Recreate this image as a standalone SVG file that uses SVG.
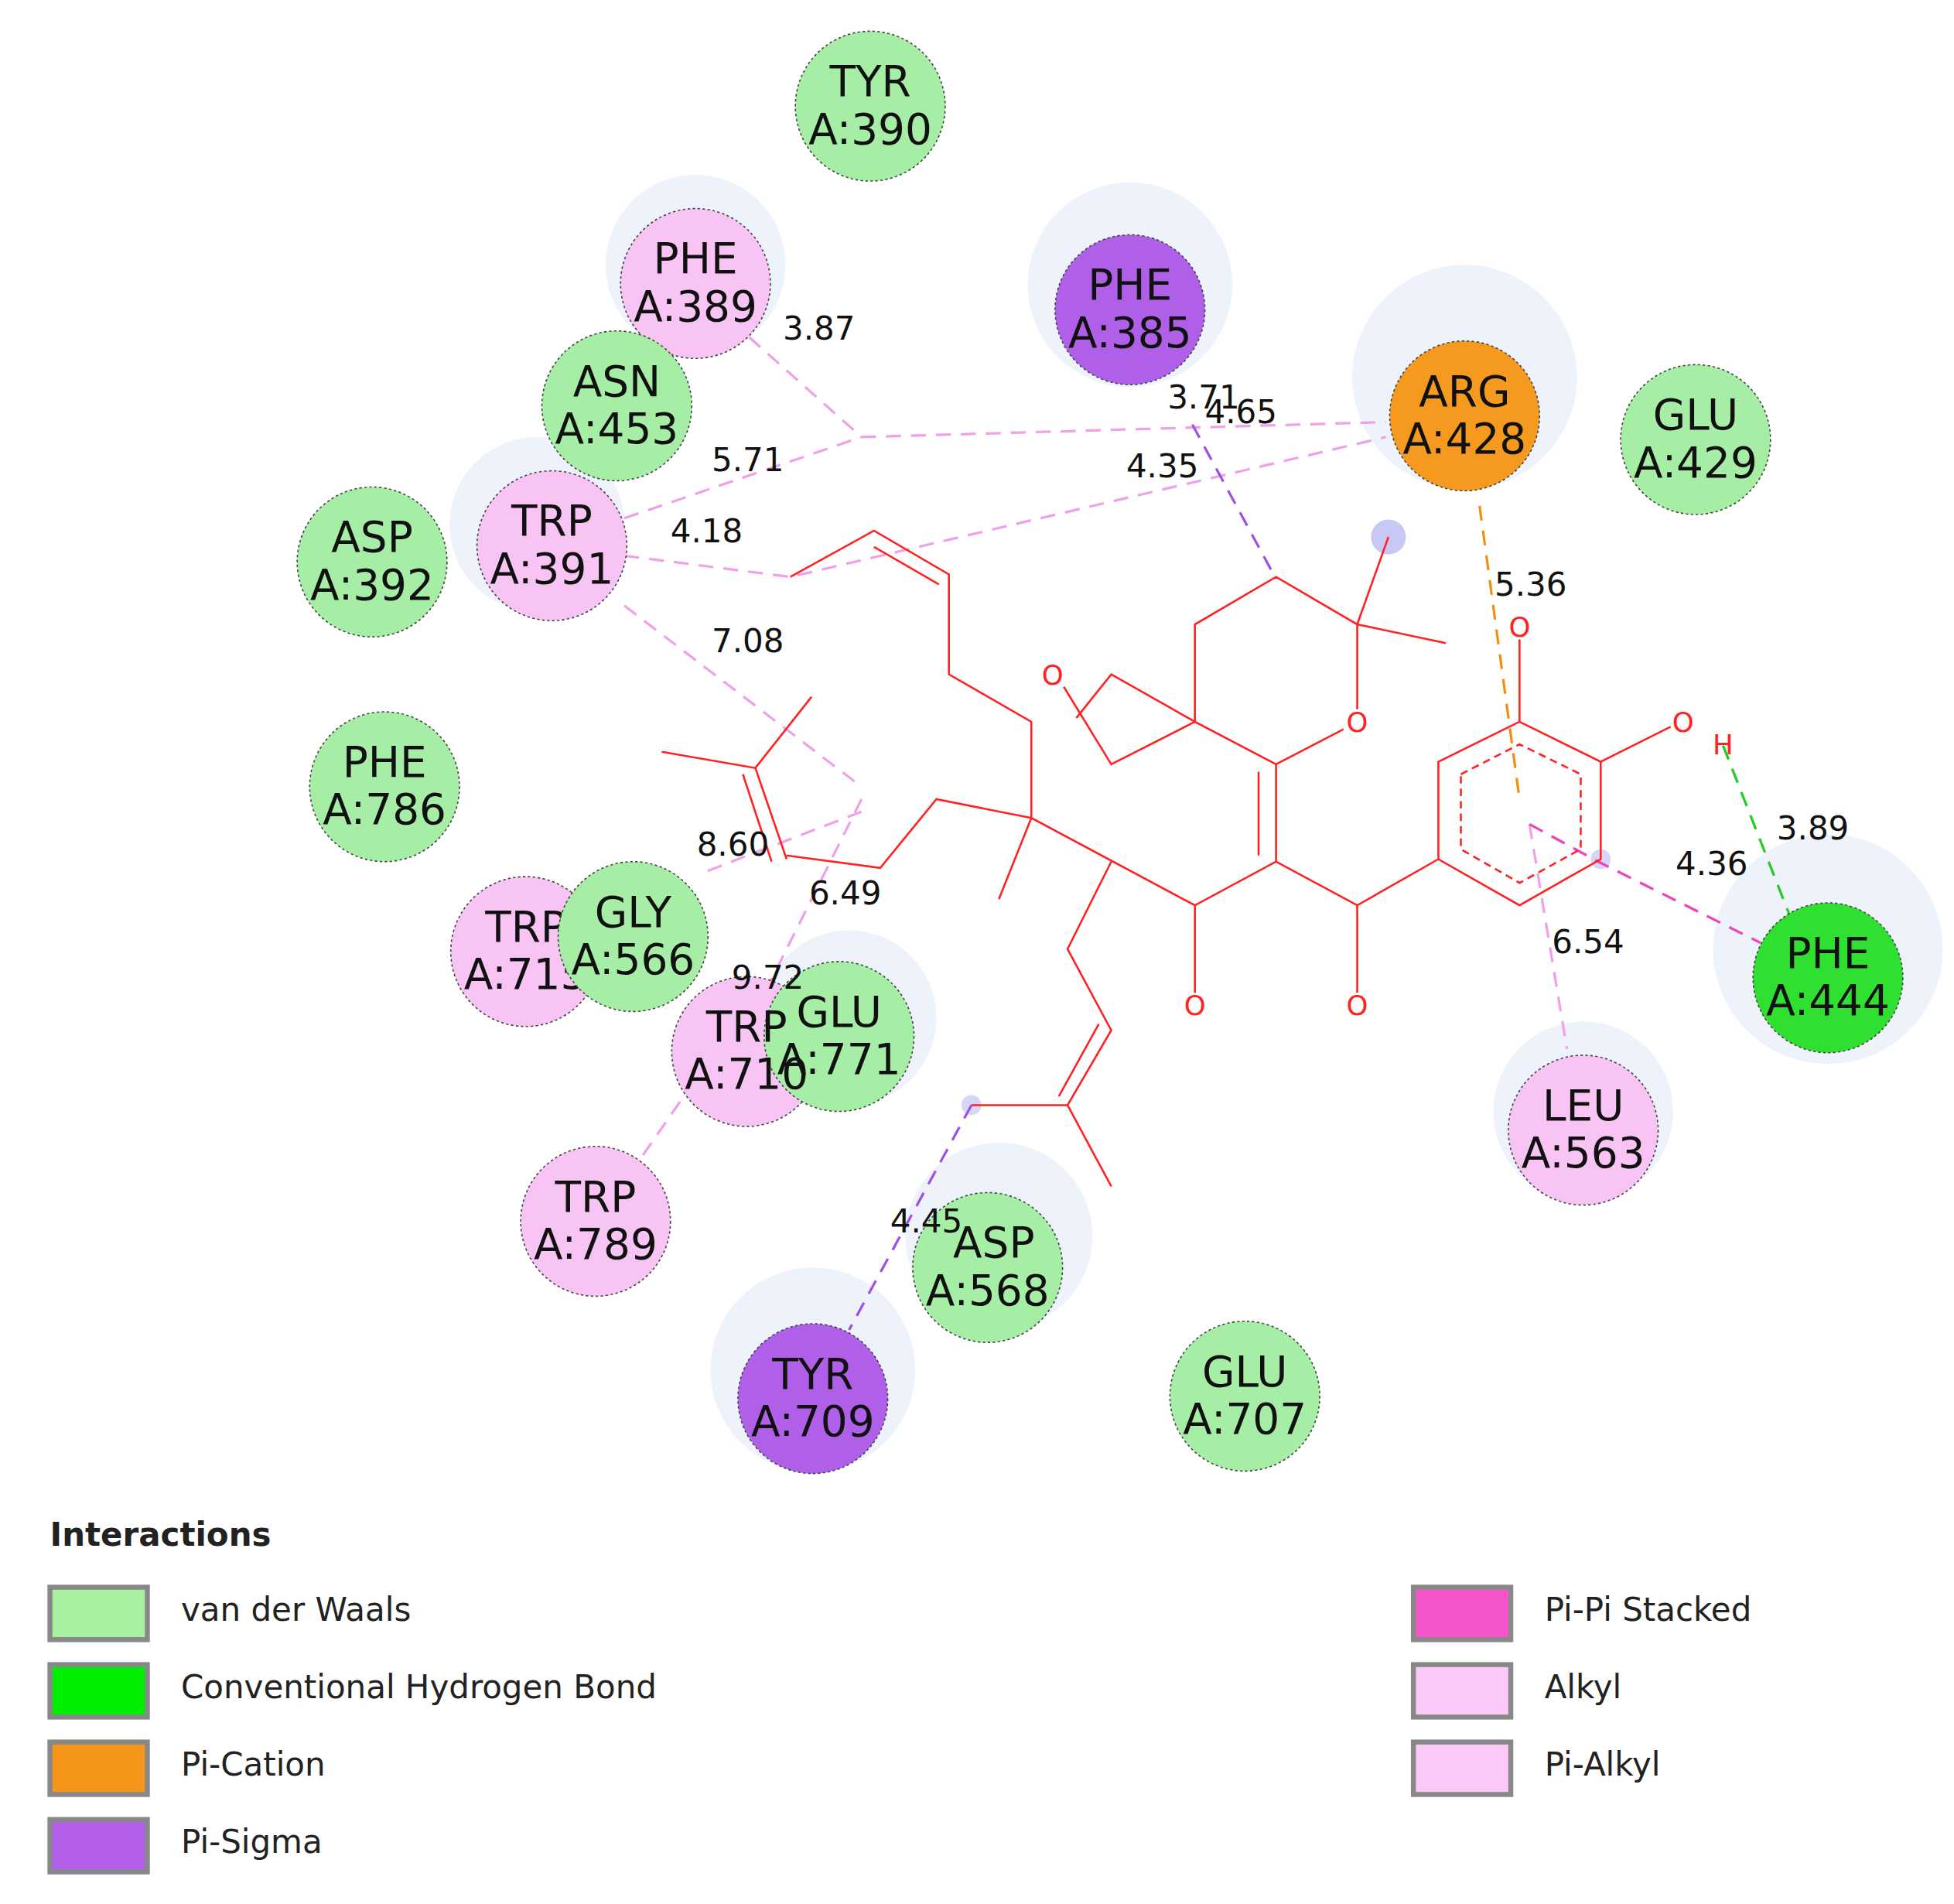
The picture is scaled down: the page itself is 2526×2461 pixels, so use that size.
<svg xmlns="http://www.w3.org/2000/svg" width="2526" height="2461" viewBox="0 0 2526 2461">
<style>
.r text{font-family:"DejaVu Sans",sans-serif;font-size:34px;text-anchor:middle;fill:#111}
.c{stroke:#444;stroke-width:1;stroke-dasharray:2 2}
.vdw{fill:#a6eea6}.pk{fill:#f7c4f4}.pu{fill:#b060e8}.or{fill:#f59a1e}.hb{fill:#30e030}
.halo{fill:#eef2fb}
.m{stroke:#f22;stroke-width:1.6;fill:none}
.d{fill:none;stroke-width:2;stroke-dasharray:12 8}
.lbl{font-family:"DejaVu Sans",sans-serif;font-size:26px;fill:#111}
.ot{font-family:"DejaVu Sans",sans-serif;font-size:22px;fill:#f22;text-anchor:middle}
.lg{font-family:"DejaVu Sans",sans-serif;font-size:26px;fill:#222}
.box{stroke:#888;stroke-width:4}
</style>
<rect width="2526" height="2461" fill="#fff"/>
<g transform="scale(1.6141)">
<g id="halos">
<circle class="halo" cx="905" cy="228" r="82"/><circle class="halo" cx="1173" cy="302" r="90"/>
<circle class="halo" cx="1464" cy="760" r="92"/><circle class="halo" cx="651" cy="1097" r="82"/>
<circle class="halo" cx="800" cy="990" r="75"/><circle class="halo" cx="557" cy="212" r="72"/>
<circle class="halo" cx="430" cy="420" r="70"/><circle class="halo" cx="1268" cy="890" r="72"/>
<circle class="halo" cx="680" cy="815" r="70"/>
<circle cx="1112" cy="430" r="14" fill="#c8c8f4"/><circle cx="1282" cy="688" r="8" fill="#d6d6f6"/><circle cx="778" cy="885" r="8" fill="#d6d6f6"/>
</g>
<g id="connectors">
<g stroke="#f0a0ea" class="d">
<path d="M600 270L690 350L1110 338"/><path d="M500 415L690 350"/><path d="M500 445L633 462L1110 350"/>
<path d="M500 485L690 630"/><path d="M690 650L560 700"/><path d="M690 640L610 800"/><path d="M515 925L560 860"/>
<path d="M1225 660L1255 840"/></g>
<path class="d" stroke="#ee44bb" d="M1225 660L1280 690L1410 755"/>
<path class="d" stroke="#a050e0" d="M955 340L1020 460M778 885L680 1065"/>
<path class="d" stroke="#f09010" d="M1185 405L1217 640"/>
<path class="d" stroke="#22cc22" d="M1380 597L1440 750"/>
</g>
<g id="ligand">
<path class="m" d="M1152 610L1217 578L1282 610L1282 688L1217 725L1152 688Z"/>
<path class="m" stroke-dasharray="6 4" d="M1170 620L1217 596L1266 620L1266 680L1217 707L1170 680Z"/>
<path class="m" d="M1217 578L1217 512M1282 610L1338 582M1152 688L1087 725L1087 795M1087 725L1022 690L957 725L957 795M1022 690L1022 612M1008 685L1008 618M1022 612L1076 584M1087 568L1087 500L1022 462L957 500L957 578L1022 612M1087 500L1112 430M1087 500L1158 515M957 578L890 612L852 550M957 578L890 540L862 575M957 725L826 655L826 578L760 540L760 460L700 425L633 462M700 438L752 468M826 655L800 720M826 655L750 640L705 695L630 685M890 690L855 760L890 825L855 885L778 885M880 820L848 878M855 885L890 950M530 602L605 615L650 558M605 615L630 688M595 620L618 690"/>
<text class="ot" x="1217" y="510">O</text><text class="ot" x="1348" y="586">O</text><text class="ot" x="1380" y="604" font-size="18" fill="#111">H</text>
<text class="ot" x="1087" y="813">O</text><text class="ot" x="957" y="813">O</text><text class="ot" x="1087" y="586">O</text><text class="ot" x="843" y="548">O</text>
</g>
<g class="r">
<g id="TYR390"><circle class="vdw c" cx="697" cy="85" r="60"/><text x="697" y="77">TYR</text><text x="697" y="115">A:390</text></g>
<g id="PHE389"><circle class="pk c" cx="557" cy="227" r="60"/><text x="557" y="219">PHE</text><text x="557" y="257">A:389</text></g>
<g id="PHE385"><circle class="pu c" cx="905" cy="248" r="60"/><text x="905" y="240">PHE</text><text x="905" y="278">A:385</text></g>
<g id="ASN453"><circle class="vdw c" cx="494" cy="325" r="60"/><text x="494" y="317">ASN</text><text x="494" y="355">A:453</text></g>
<g id="ARG428"><circle class="or c" cx="1173" cy="333" r="60"/><text x="1173" y="325">ARG</text><text x="1173" y="363">A:428</text></g>
<g id="GLU429"><circle class="vdw c" cx="1358" cy="352" r="60"/><text x="1358" y="344">GLU</text><text x="1358" y="382">A:429</text></g>
<g id="ASP392"><circle class="vdw c" cx="298" cy="450" r="60"/><text x="298" y="442">ASP</text><text x="298" y="480">A:392</text></g>
<g id="TRP391"><circle class="pk c" cx="442" cy="437" r="60"/><text x="442" y="429">TRP</text><text x="442" y="467">A:391</text></g>
<g id="PHE786"><circle class="vdw c" cx="308" cy="630" r="60"/><text x="308" y="622">PHE</text><text x="308" y="660">A:786</text></g>
<g id="TRP715"><circle class="pk c" cx="421" cy="762" r="60"/><text x="421" y="754">TRP</text><text x="421" y="792">A:715</text></g>
<g id="GLY566"><circle class="vdw c" cx="507" cy="750" r="60"/><text x="507" y="742">GLY</text><text x="507" y="780">A:566</text></g>
<g id="TRP710"><circle class="pk c" cx="598" cy="842" r="60"/></g>
<g id="GLU771"><circle class="vdw c" cx="672" cy="830" r="60"/><text x="672" y="822">GLU</text><text x="672" y="860">A:771</text></g>
<g id="TRP710t"><text x="598" y="834">TRP</text><text x="598" y="872">A:710</text></g>
<g id="TRP789"><circle class="pk c" cx="477" cy="978" r="60"/><text x="477" y="970">TRP</text><text x="477" y="1008">A:789</text></g>
<g id="ASP568"><circle class="vdw c" cx="791" cy="1015" r="60"/><text x="796" y="1007">ASP</text><text x="791" y="1045">A:568</text></g>
<g id="TYR709"><circle class="pu c" cx="651" cy="1120" r="60"/><text x="651" y="1112">TYR</text><text x="651" y="1150">A:709</text></g>
<g id="GLU707"><circle class="vdw c" cx="997" cy="1118" r="60"/><text x="997" y="1110">GLU</text><text x="997" y="1148">A:707</text></g>
<g id="LEU563"><circle class="pk c" cx="1268" cy="905" r="60"/><text x="1268" y="897">LEU</text><text x="1268" y="935">A:563</text></g>
<g id="PHE444"><circle class="hb c" cx="1464" cy="783" r="60"/><text x="1464" y="775">PHE</text><text x="1464" y="813">A:444</text></g>
</g>
<g class="lbl">
<text x="627" y="272">3.87</text><text x="570" y="377">5.71</text><text x="537" y="434">4.18</text><text x="570" y="522">7.08</text>
<text x="558" y="685">8.60</text><text x="648" y="724">6.49</text><text x="586" y="792">9.72</text><text x="935" y="327">3.71</text>
<text x="965" y="339">4.65</text><text x="902" y="382">4.35</text><text x="1197" y="477">5.36</text><text x="1423" y="672">3.89</text>
<text x="1342" y="701">4.36</text><text x="1243" y="763">6.54</text><text x="713" y="987">4.45</text>
</g>
<g id="legend">
<text class="lg" x="40" y="1238" font-weight="bold">Interactions</text>
<rect class="box" x="40" y="1271" width="78" height="42" fill="#a6f0a0"/><text class="lg" x="145" y="1298">van der Waals</text>
<rect class="box" x="40" y="1333" width="78" height="42" fill="#00ee00"/><text class="lg" x="145" y="1360">Conventional Hydrogen Bond</text>
<rect class="box" x="40" y="1395" width="78" height="42" fill="#f5951a"/><text class="lg" x="145" y="1422">Pi-Cation</text>
<rect class="box" x="40" y="1457" width="78" height="42" fill="#b35ee8"/><text class="lg" x="145" y="1484">Pi-Sigma</text>
<rect class="box" x="1132" y="1271" width="78" height="42" fill="#f555c8"/><text class="lg" x="1237" y="1298">Pi-Pi Stacked</text>
<rect class="box" x="1132" y="1333" width="78" height="42" fill="#fcc8f8"/><text class="lg" x="1237" y="1360">Alkyl</text>
<rect class="box" x="1132" y="1395" width="78" height="42" fill="#fcc8f8"/><text class="lg" x="1237" y="1422">Pi-Alkyl</text>
</g>
</g>
</svg>
